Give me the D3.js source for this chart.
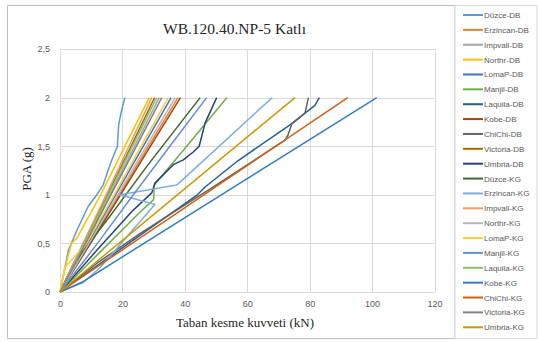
<!DOCTYPE html>
<html><head><meta charset="utf-8">
<script src="https://cdn.jsdelivr.net/npm/d3@7"></script>
<style>body{margin:0;background:#fff}svg{display:block}</style>
</head><body>
<svg id="c" width="538" height="342"></svg>
<script>
// ---- data: each point is [taban kesme kuvveti (kN), PGA (g)] ----
const duzceDB    = [[0,0],[2.7,0.43],[5.5,0.64],[9,0.88],[11.8,1.0],[13.8,1.1],[16.5,1.35],[18.4,1.5],[18.8,1.72],[19.6,1.85],[20.8,2.0]];
const erzincanDB = [[0,0],[9.5,0.5],[19,1.0],[28.4,1.5],[37.8,2.0]];
const impvallDB  = [[0,0],[8,0.5],[16,1.0],[23.9,1.5],[31.8,2.0]];
const northrDB   = [[0,0],[2,0.3],[3.7,0.5],[5.5,0.56],[13,1.0],[20.8,1.5],[28.6,2.0]];
const lomaPDB    = [[0,0],[9,0.5],[17.8,1.0],[26.7,1.5],[35.6,2.0]];
const manjilDB   = [[0,0],[12.5,0.4],[25.6,0.82],[30,0.95],[30.2,1.1],[40.6,1.5],[53.5,2.0]];
const laquilaDB  = [[0,0],[22,0.5],[44,1.0],[46.5,1.08],[57,1.35],[73.7,1.72],[81.7,1.92],[83.1,2.0]];
const kobeDB     = [[0,0],[9.8,0.5],[19.4,1.0],[29,1.5],[38.6,2.0]];
const chichiDB   = [[0,0],[12,0.3],[25.6,0.6],[50,1.1],[72,1.56],[73,1.61],[74.3,1.73],[78.5,1.84],[79.6,2.0]];
const victoriaDB = [[0,0],[7.5,0.5],[15.2,1.0],[22.8,1.5],[30.3,2.0]];
const umbriaDB   = [[0,0],[11,0.4],[23.4,0.84],[29.4,1.02],[30.4,1.12],[36.3,1.31],[39.5,1.36],[42.7,1.44],[44.6,1.5],[46.5,1.74],[50.2,2.0]];
const duzceKG    = [[0,0],[4.3,0.29],[16,0.78],[28,1.3],[44.9,2.0]];
const erzincanKG = [[0,0],[7.5,0.1],[12.8,0.25],[30.4,0.9],[19.2,1.0],[37.4,1.1],[68,2.0]];
const impvallKG  = [[0,0],[7.4,0.5],[14.8,1.0],[22.1,1.5],[29.4,2.0]];
const northrKG   = [[0,0],[9.3,0.5],[18.5,1.0],[27.7,1.5],[36.9,2.0]];
const lomaPKG    = [[0,0],[1.5,0.25],[8.5,0.5],[17.4,1.0],[26,1.5],[34.7,2.0]];
const manjilKG   = [[0,0],[12,0.5],[23.5,1.0],[35.2,1.5],[47,2.0]];
const laquilaKG  = [[0,0],[7.8,0.5],[15.5,1.0],[23.2,1.5],[31,2.0]];
const kobeKG     = [[0,0],[7,0.1],[101.5,2.0]];
const chichiKG   = [[0,0],[46.1,1.0],[92.2,2.0]];
const victoriaKG = [[0,0],[8.2,0.5],[16.3,1.0],[24.5,1.5],[32.6,2.0]];
const umbriaKG   = [[0,0],[37.6,1.0],[75.3,2.0]];

const seriesNames = ["Düzce-DB","Erzincan-DB","Impvall-DB","Northr-DB","LomaP-DB","Manjil-DB","Laquila-DB","Kobe-DB","ChiChi-DB","Victoria-DB","Umbria-DB",
                     "Düzce-KG","Erzincan-KG","Impvall-KG","Northr-KG","LomaP-KG","Manjil-KG","Laquila-KG","Kobe-KG","ChiChi-KG","Victoria-KG","Umbria-KG"];
const seriesValues = [duzceDB,erzincanDB,impvallDB,northrDB,lomaPDB,manjilDB,laquilaDB,kobeDB,chichiDB,victoriaDB,umbriaDB,
                      duzceKG,erzincanKG,impvallKG,northrKG,lomaPKG,manjilKG,laquilaKG,kobeKG,chichiKG,victoriaKG,umbriaKG];
const xTicks = [0,20,40,60,80,100,120];
const yTicks = [0,0.5,1,1.5,2,2.5];
const titleText = "WB.120.40.NP-5 Katlı";
const xTitle = "Taban kesme kuvveti (kN)";
const yTitle = "PGA (g)";

// ---- palette (Excel) ----
const palette = ["#5B9BD5","#ED7D31","#A5A5A5","#FFC000","#4472C4","#70AD47","#255E91","#9E480E","#636363","#997300","#264478",
                 "#43682B","#7CAFDD","#F1975A","#B7B7B7","#FFCD33","#698ED0","#8CC168","#327DC2","#D26012","#848484","#CC9A00"];

const svg = d3.select("#c");
const fmt = v => String(v).replace(".", ",");

// chart frame
svg.append("rect").attr("x",7.5).attr("y",5.5).attr("width",447.5).attr("height",333)
  .attr("fill","#fff").attr("stroke","#BFBFBF");

const x = d3.scaleLinear().domain([0,120]).range([60,434.5]);
const y = d3.scaleLinear().domain([0,2.5]).range([292,49]);

// grid
svg.append("g").selectAll("line").data(yTicks).join("line")
  .attr("x1",x(0)).attr("x2",x(120)).attr("y1",d=>Math.round(y(d))+0.5).attr("y2",d=>Math.round(y(d))+0.5)
  .attr("stroke","#D9D9D9").attr("stroke-width",1);
svg.append("g").selectAll("line").data(xTicks).join("line")
  .attr("y1",y(0)).attr("y2",y(2.5)).attr("x1",d=>Math.round(x(d))+0.5).attr("x2",d=>Math.round(x(d))+0.5)
  .attr("stroke","#D9D9D9").attr("stroke-width",1);

// axes (labels only)
const xAxis = svg.append("g").attr("transform",`translate(0,${y(0)})`)
  .call(d3.axisBottom(x).tickValues(xTicks).tickSize(0).tickPadding(9).tickFormat(fmt));
const yAxis = svg.append("g").attr("transform",`translate(${x(0)},0)`)
  .call(d3.axisLeft(y).tickValues(yTicks).tickSize(0).tickPadding(10).tickFormat(fmt));
[xAxis,yAxis].forEach(a=>{
  a.select(".domain").remove();
  a.selectAll("text").attr("fill","#595959").style("font-family","'Liberation Sans',Arial,sans-serif").style("font-size","9px");
});

// series
const line = d3.line().x(d=>x(d[0])).y(d=>y(d[1]));
svg.append("g").selectAll("path").data(seriesValues).join("path")
  .attr("d",line).attr("fill","none").attr("stroke",(d,i)=>palette[i])
  .attr("stroke-width",1.5).attr("stroke-linejoin","round");

// titles
svg.append("text").attr("x",234.5).attr("y",34).attr("text-anchor","middle")
  .style("font-family","'Liberation Serif','Times New Roman',serif").style("font-size","15.5px").attr("fill","#262626").text(titleText);
svg.append("text").attr("x",245).attr("y",327).attr("text-anchor","middle")
  .style("font-family","'Liberation Serif','Times New Roman',serif").style("font-size","13px").attr("fill","#262626").text(xTitle);
svg.append("text").attr("transform","translate(31,169) rotate(-90)").attr("text-anchor","middle")
  .style("font-family","'Liberation Serif','Times New Roman',serif").style("font-size","13px").attr("fill","#262626").text(yTitle);

// legend
const lg = svg.append("g");
lg.append("rect").attr("x",455).attr("y",5.5).attr("width",82).attr("height",333).attr("fill","#fff").attr("stroke","#D9D9D9");
const items = lg.selectAll("g").data(seriesNames).join("g")
  .attr("transform",(d,i)=>`translate(0,${15 + i*14.87})`);
items.append("line").attr("x1",463).attr("x2",483).attr("y1",0).attr("y2",0)
  .attr("stroke",(d,i)=>palette[i]).attr("stroke-width",2);
items.append("text").attr("x",484).attr("y",3).text(d=>d)
  .attr("fill","#595959").style("font-family","'Liberation Sans',Arial,sans-serif").style("font-size","8px");
</script>
</body></html>
